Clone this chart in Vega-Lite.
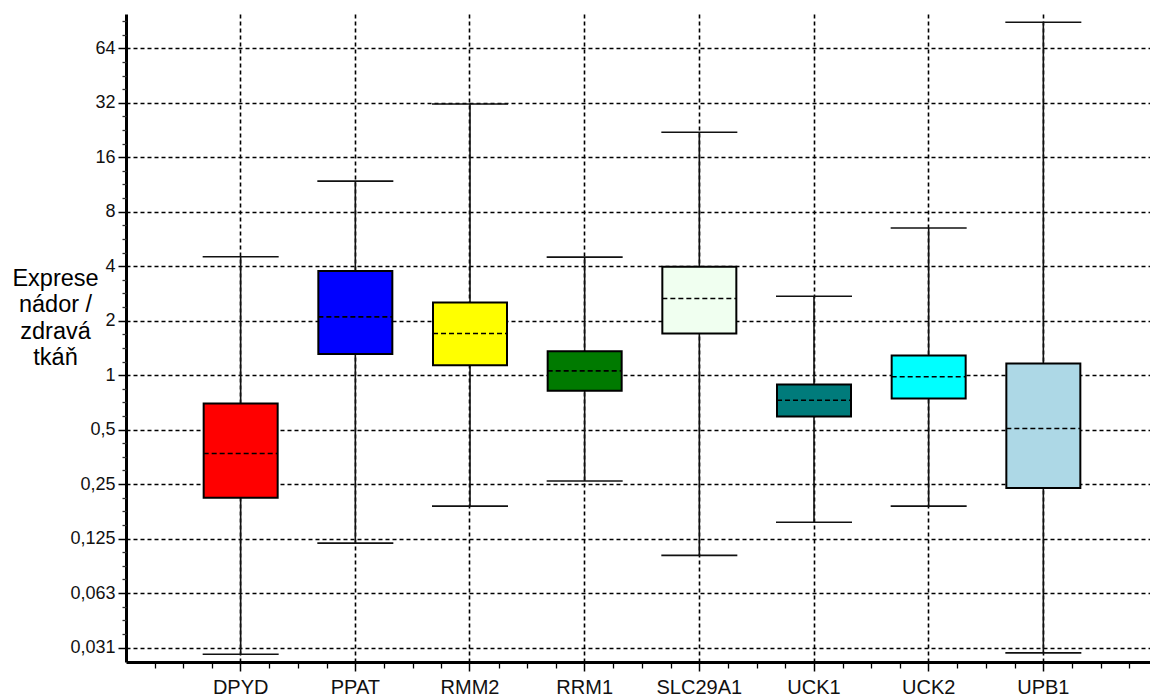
{
  "$schema": "https://vega.github.io/schema/vega-lite/v6.json",
  "width": 1024,
  "height": 648,
  "autosize": {"type": "none"},
  "padding": {"left": 126, "top": 14, "right": 0, "bottom": 36},
  "background": "white",
  "config": {
    "view": {"stroke": null},
    "font": "Liberation Sans",
    "axis": {"labelFont": "Liberation Sans", "titleFont": "Liberation Sans"}
  },
  "data": {
    "values": [
      {"gene": "DPYD", "min": 0.0287, "q1": 0.21, "median": 0.369, "q3": 0.697, "max": 4.51},
      {"gene": "PPAT", "min": 0.118, "q1": 1.31, "median": 2.1, "q3": 3.76, "max": 11.8},
      {"gene": "RMM2", "min": 0.189, "q1": 1.136, "median": 1.7, "q3": 2.52, "max": 31.5},
      {"gene": "RRM1", "min": 0.26, "q1": 0.819, "median": 1.056, "q3": 1.357, "max": 4.49},
      {"gene": "SLC29A1", "min": 0.101, "q1": 1.7, "median": 2.65, "q3": 3.97, "max": 22.0},
      {"gene": "UCK1", "min": 0.154, "q1": 0.591, "median": 0.727, "q3": 0.888, "max": 2.73},
      {"gene": "UCK2", "min": 0.189, "q1": 0.743, "median": 0.979, "q3": 1.285, "max": 6.5},
      {"gene": "UPB1", "min": 0.0292, "q1": 0.238, "median": 0.507, "q3": 1.16, "max": 89.1}
    ]
  },
  "layer": [
    {
      "layer": [
        {
          "mark": {"type": "rule", "color": "#111111", "strokeWidth": 1.6},
          "encoding": {
            "x": {
              "field": "gene",
              "type": "nominal",
              "sort": null,
              "scale": {"type": "band", "range": [0, 1032], "paddingInner": 0, "paddingOuter": 0.5},
              "axis": {
                "orient": "bottom",
                "title": null,
                "labelAngle": 0,
                "labelFontSize": 20,
                "labelColor": "#111111",
                "labelPadding": 6,
                "domainWidth": 3,
                "domainColor": "black",
                "tickColor": "black",
                "tickSize": 9,
                "tickWidth": 1.5,
                "grid": true,
                "gridColor": "black",
                "gridDash": [4, 3],
                "gridWidth": 1.6
              }
            },
            "y": {
              "field": "min",
              "type": "quantitative",
              "scale": {"type": "log", "base": 2, "domain": [0.026, 99], "nice": false},
              "axis": {
                "orient": "left",
                "values": [0.03125, 0.0625, 0.125, 0.25, 0.5, 1, 2, 4, 8, 16, 32, 64],
                "labelExpr": "datum.value < 0.04 ? '0,031' : datum.value < 0.07 ? '0,063' : replace(toString(datum.value), '.', ',')",
                "labelFontSize": 18,
                "labelColor": "#111111",
                "labelPadding": 3,
                "domainWidth": 3,
                "domainColor": "black",
                "tickColor": "black",
                "tickSize": 8,
                "tickWidth": 1.5,
                "grid": true,
                "gridColor": "black",
                "gridDash": [4, 3],
                "gridWidth": 1.6,
                "title": ["Exprese", "nádor /", "zdravá", "tkáň"],
                "titleAngle": 0,
                "titleAlign": "center",
                "titleBaseline": "middle",
                "titleX": -71,
                "titleY": 264,
                "titleFontSize": 23.5,
                "titleFontWeight": "normal",
                "titleLineHeight": 26.5,
                "titleColor": "black"
              }
            },
            "y2": {"field": "max"}
          }
        },
        {
          "mark": {"type": "bar", "width": 74, "stroke": "black", "strokeWidth": 2, "opacity": 1},
          "encoding": {
            "x": {"field": "gene", "type": "nominal", "sort": null},
            "y": {"field": "q1", "type": "quantitative"},
            "y2": {"field": "q3"},
            "fill": {
              "field": "gene",
              "type": "nominal",
              "legend": null,
              "scale": {
                "domain": ["DPYD", "PPAT", "RMM2", "RRM1", "SLC29A1", "UCK1", "UCK2", "UPB1"],
                "range": ["#ff0000", "#0000ff", "#ffff00", "#007a00", "#f0fff0", "#007b7b", "#00ffff", "#add8e6"]
              }
            }
          }
        },
        {
          "mark": {"type": "rule", "color": "black", "strokeWidth": 1.6, "strokeDash": [5, 3]},
          "encoding": {
            "x": {"field": "gene", "type": "nominal", "sort": null, "bandPosition": 0.1775},
            "x2": {"field": "gene", "bandPosition": 0.8225},
            "y": {"field": "median", "type": "quantitative"}
          }
        },
        {
          "mark": {"type": "tick", "color": "#111111", "size": 76, "thickness": 1.6, "opacity": 1},
          "encoding": {
            "x": {"field": "gene", "type": "nominal", "sort": null},
            "y": {"field": "min", "type": "quantitative"}
          }
        },
        {
          "mark": {"type": "tick", "color": "#111111", "size": 76, "thickness": 1.6, "opacity": 1},
          "encoding": {
            "x": {"field": "gene", "type": "nominal", "sort": null},
            "y": {"field": "max", "type": "quantitative"}
          }
        }
      ]
    },
    {
      "mark": {"type": "point", "opacity": 0},
      "encoding": {
        "x": {
          "datum": 1,
          "type": "quantitative",
          "scale": {"domain": [0, 9], "range": [0, 1032], "nice": false, "zero": false},
          "axis": {
            "orient": "bottom",
            "values": [0.25, 0.5, 0.75, 1.25, 1.5, 1.75, 2.25, 2.5, 2.75, 3.25, 3.5, 3.75, 4.25, 4.5, 4.75, 5.25, 5.5, 5.75, 6.25, 6.5, 6.75, 7.25, 7.5, 7.75, 8.25, 8.5, 8.75],
            "labels": false,
            "domain": false,
            "grid": false,
            "ticks": true,
            "tickColor": "black",
            "tickSize": 6,
            "tickWidth": 1.3,
            "title": null
          }
        },
        "y": {
          "datum": 1,
          "type": "quantitative",
          "axis": {
            "orient": "left",
            "values": [0.03716, 0.04419, 0.05256, 0.07433, 0.08839, 0.10511, 0.14865, 0.17678, 0.21022, 0.2973, 0.35355, 0.42045, 0.5946, 0.70711, 0.8409, 1.18921, 1.41421, 1.68179, 2.37841, 2.82843, 3.36359, 4.75683, 5.65685, 6.72717, 9.51366, 11.31371, 13.45434, 19.02731, 22.62742, 26.90869, 38.05463, 45.25483, 53.81737, 76.10926, 90.50967],
            "labels": false,
            "domain": false,
            "grid": false,
            "ticks": true,
            "tickColor": "#333333",
            "tickSize": 4,
            "tickWidth": 1.3,
            "title": null
          }
        }
      }
    }
  ],
  "resolve": {
    "scale": {"x": "independent"},
    "axis": {"x": "independent", "y": "independent"}
  }
}
